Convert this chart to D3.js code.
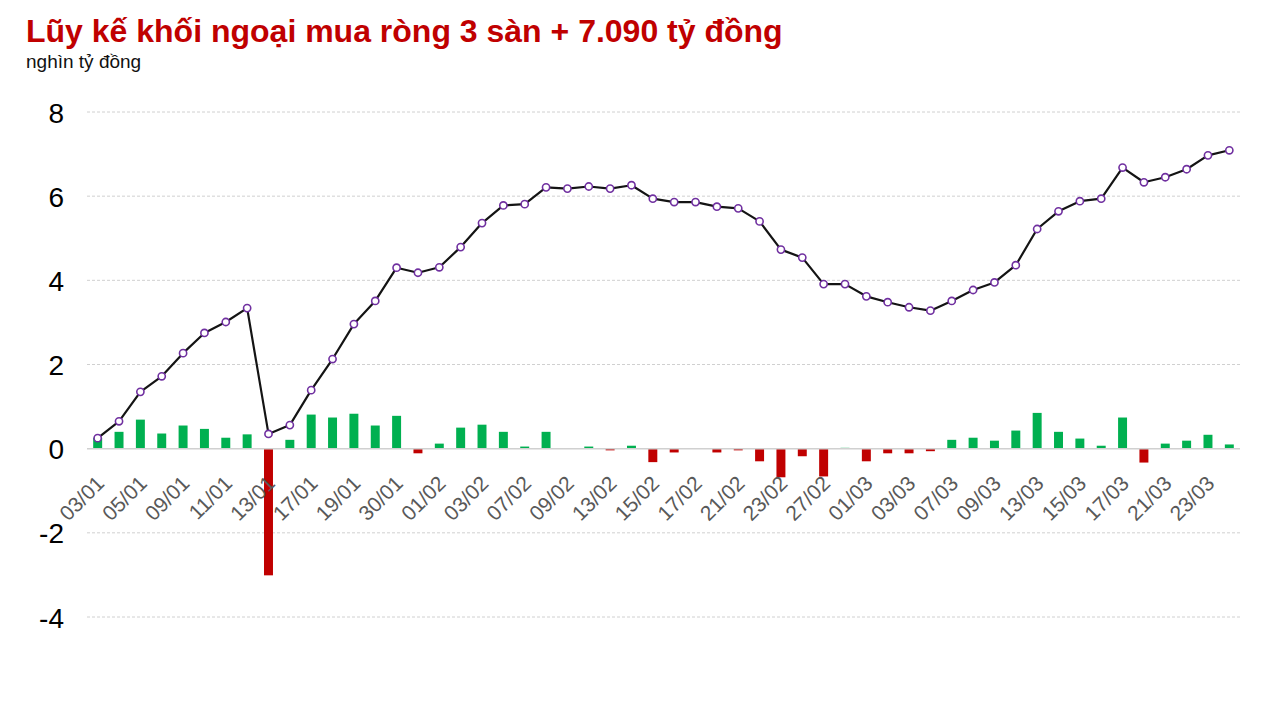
<!DOCTYPE html>
<html>
<head>
<meta charset="utf-8">
<script src="https://cdn.jsdelivr.net/npm/d3@7"></script>
<style>
  html, body { margin: 0; padding: 0; background: #fff; }
  svg { display: block; font-family: "Liberation Sans", Arial, sans-serif; }
</style>
</head>
<body>
<svg id="chart" width="1280" height="720"></svg>
<script>
const dates = ["03/01","04/01","05/01","06/01","09/01","10/01","11/01","12/01","13/01","16/01",
  "17/01","18/01","19/01","27/01","30/01","31/01","01/02","02/02","03/02","06/02",
  "07/02","08/02","09/02","10/02","13/02","14/02","15/02","16/02","17/02","20/02",
  "21/02","22/02","23/02","24/02","27/02","28/02","01/03","02/03","03/03","06/03",
  "07/03","08/03","09/03","10/03","13/03","14/03","15/03","16/03","17/03","20/03",
  "21/03","22/03","23/03","24/03"];
const daily = [0.26,0.40,0.69,0.36,0.55,0.47,0.26,0.34,-3.01,0.21,
  0.81,0.74,0.83,0.55,0.78,-0.11,0.12,0.50,0.57,0.40,
  0.05,0.40,0.00,0.05,-0.04,0.07,-0.32,-0.09,0.00,-0.09,
  -0.04,-0.30,-0.68,-0.18,-0.66,0.02,-0.30,-0.11,-0.11,-0.06,
  0.21,0.26,0.19,0.43,0.85,0.40,0.24,0.07,0.74,-0.33,
  0.12,0.19,0.33,0.10];
const cumulative = [0.25,0.65,1.35,1.72,2.27,2.75,3.01,3.34,0.35,0.56,
  1.39,2.13,2.96,3.51,4.30,4.18,4.31,4.79,5.36,5.78,
  5.81,6.21,6.18,6.23,6.18,6.26,5.94,5.86,5.86,5.75,
  5.71,5.40,4.73,4.54,3.91,3.91,3.62,3.48,3.36,3.28,
  3.51,3.77,3.95,4.36,5.22,5.64,5.88,5.94,6.68,6.33,
  6.45,6.64,6.97,7.09];
const yTicks = [-4,-2,0,2,4,6,8];
const titleText = "Lũy kế khối ngoại mua ròng 3 sàn + 7.090 tỷ đồng";
const unitText = "nghìn tỷ đồng";

const svg = d3.select("#chart");
const left = 87, right = 1240;

const x = d3.scaleBand().domain(dates).range([left, right]).paddingInner(0.58).paddingOuter(0.29);
const y = d3.scaleLinear().domain([-4, 8]).range([617, 112]);
const cx = d => x(d) + x.bandwidth() / 2;

// title
svg.append("text").attr("x", 26).attr("y", 42)
  .attr("fill", "#c00000").attr("font-weight", "bold").attr("font-size", 32)
  .text(titleText);
svg.append("text").attr("x", 26).attr("y", 68)
  .attr("fill", "#111").attr("font-size", 19)
  .text(unitText);

// grid
const grid = svg.append("g");
grid.selectAll("line").data(yTicks.filter(t => t !== 0)).join("line")
  .attr("x1", left).attr("x2", right)
  .attr("y1", d => y(d)).attr("y2", d => y(d))
  .attr("stroke", "#d0d0d0").attr("stroke-width", 1).attr("stroke-dasharray", "3,2");

// y axis labels
const yAxis = d3.axisLeft(y).tickValues(yTicks).tickSize(0).tickPadding(0).tickFormat(d => String(d));
const yg = svg.append("g").attr("transform", `translate(64,0)`).call(yAxis);
yg.select(".domain").remove();
yg.selectAll("text").attr("font-size", 28).attr("fill", "#000")
  .attr("font-family", "Liberation Sans, Arial, sans-serif").attr("dy", "0.36em");

// bars
svg.append("g").selectAll("rect").data(dates).join("rect")
  .attr("x", d => x(d))
  .attr("width", x.bandwidth())
  .attr("y", (d, i) => y(Math.max(0, daily[i])))
  .attr("height", (d, i) => Math.abs(y(daily[i]) - y(0)))
  .attr("fill", (d, i) => daily[i] >= 0 ? "#00b050" : "#c00000");

// zero line
svg.append("line").attr("x1", left).attr("x2", right)
  .attr("y1", y(0)).attr("y2", y(0))
  .attr("stroke", "#d0d0d0").attr("stroke-width", 1.5);

// x axis labels
const labelDates = dates.filter((d, i) => i % 2 === 0);
const xAxis = d3.axisBottom(x).tickValues(labelDates).tickSize(0).tickPadding(0);
const xg = svg.append("g").attr("transform", `translate(0,${y(0)})`).call(xAxis);
xg.select(".domain").remove();
xg.selectAll("text")
  .attr("font-size", 21).attr("fill", "#595959")
  .attr("font-family", "Liberation Sans, Arial, sans-serif")
  .attr("text-anchor", "end")
  .attr("dy", 31).attr("dx", -20)
  .attr("transform", "rotate(-45)");

// line
const line = d3.line().x((d, i) => cx(dates[i])).y(d => y(d));
svg.append("path").datum(cumulative)
  .attr("d", line).attr("fill", "none")
  .attr("stroke", "#141414").attr("stroke-width", 2.2).attr("stroke-linejoin", "round");

svg.append("g").selectAll("circle").data(cumulative).join("circle")
  .attr("cx", (d, i) => cx(dates[i])).attr("cy", d => y(d))
  .attr("r", 3.6).attr("fill", "#fff")
  .attr("stroke", "#7030a0").attr("stroke-width", 1.6);
</script>
</body>
</html>
